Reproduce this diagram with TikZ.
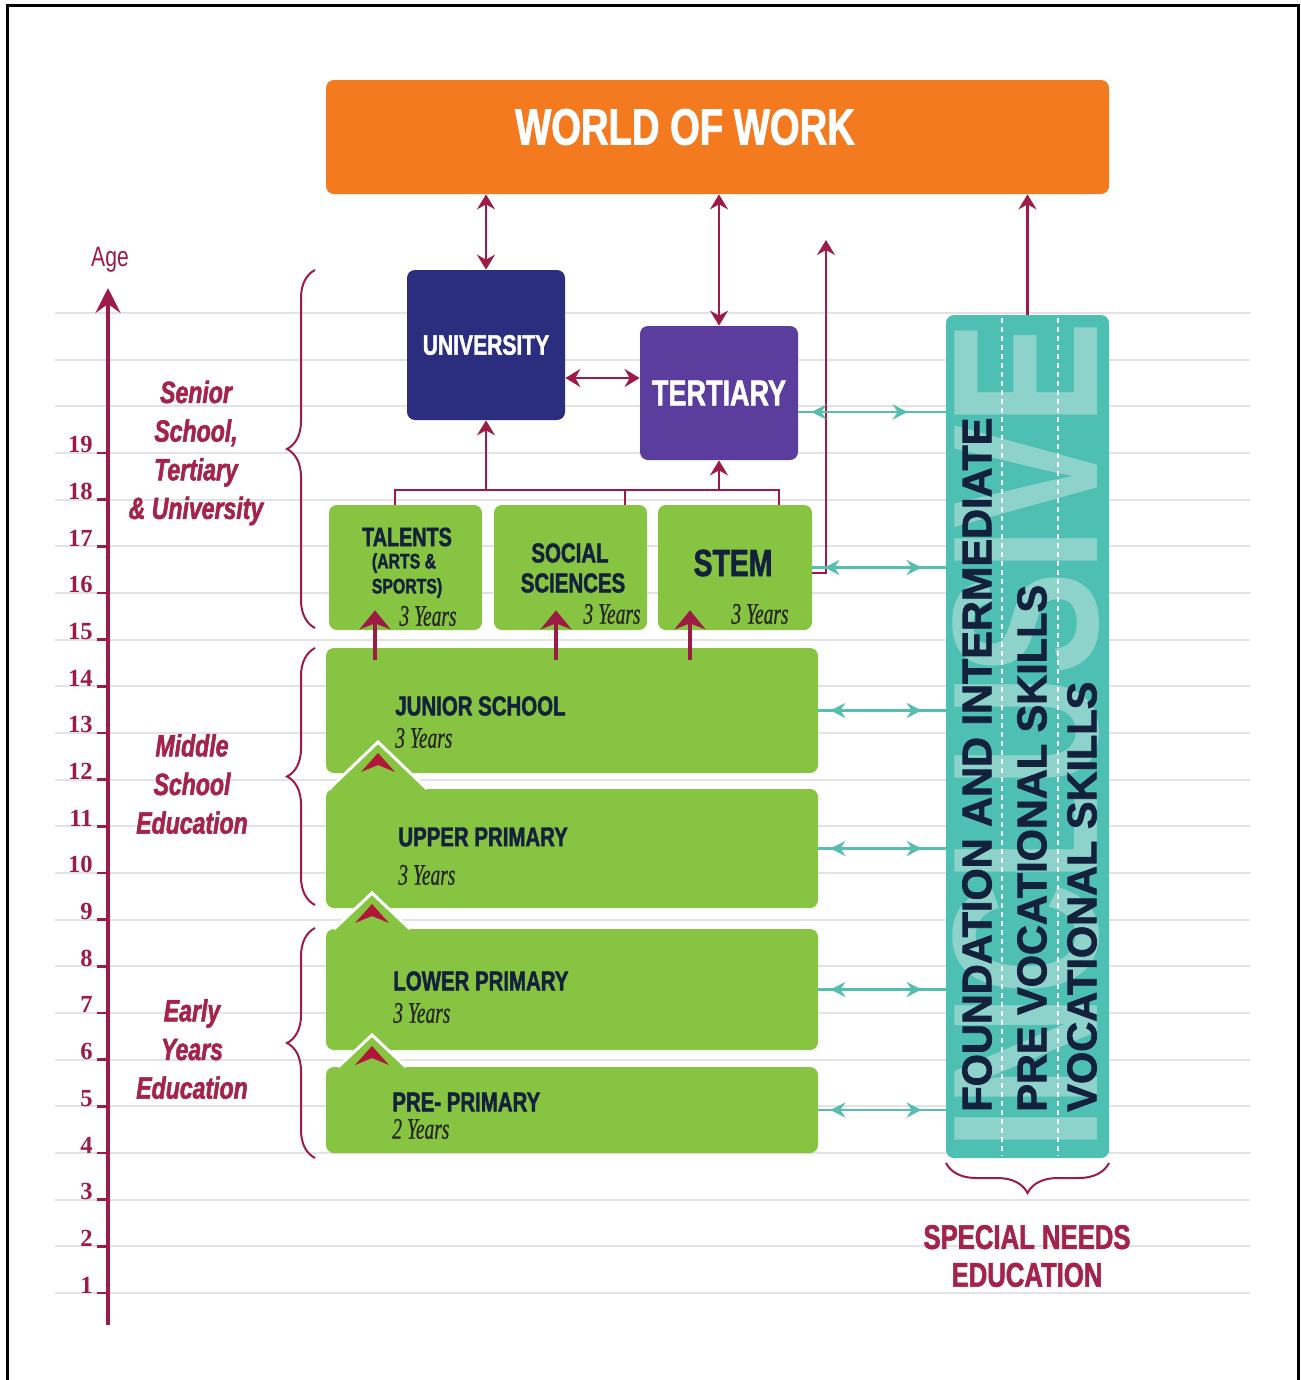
\documentclass[tikz,border=0pt]{standalone}
\usepackage{fontspec}
\setmainfont{Liberation Serif}
\setsansfont{Liberation Sans}
\newfontfamily\hfont{Liberation Sans}[FakeStretch=0.75]
\newfontfamily\kfont{Liberation Sans}[FakeStretch=0.75, FakeBold=1.6]
\newfontfamily\vfont{Liberation Sans}[FakeBold=1.8]
\newfontfamily\yfont{Liberation Serif}[FakeStretch=0.65, FakeBold=0.6]
\usepackage{tikz}
\usetikzlibrary{positioning,arrows.meta,calc,decorations.pathreplacing}

\definecolor{wowOrange}{HTML}{F47A20}
\definecolor{uniNavy}{HTML}{2B2E7E}
\definecolor{tertPurple}{HTML}{5B3D9D}
\definecolor{leafGreen}{HTML}{86C441}
\definecolor{inclTeal}{HTML}{4DBFB3}
\definecolor{inclMark}{HTML}{9FD8D2}
\definecolor{linkTeal}{HTML}{56BDB1}
\definecolor{wine}{HTML}{9C1C46}
\definecolor{wineText}{HTML}{A3234B}
\definecolor{inkNavy}{HTML}{13213C}
\definecolor{ruleGray}{HTML}{E3E3E3}

\newlength\upx
\setlength\upx{0.02cm}

\begin{document}
\begin{tikzpicture}[x=0.02cm, y=-0.02cm,
        >={Stealth[length=0.3cm,width=0.36cm,inset=0.1cm]},
        box/.style={rounded corners=0.16cm, inner sep=0pt},
        greenbox/.style={box, fill=leafGreen},
        boxtitle/.style={inner sep=0pt, text=inkNavy, font=\kfont\bfseries\fontsize{15.5}{15.5}\selectfont},
        years/.style={inner sep=0pt, text=black!85, font=\yfont\itshape\fontsize{17}{17}\selectfont},
        agenum/.style={anchor=base east, inner sep=0pt, text=wine, font=\bfseries\fontsize{14}{14}\selectfont},
        stage/.style={align=center, text=wineText, font=\kfont\bfseries\itshape\fontsize{17.5}{22}\selectfont},
        vtext/.style={rotate=90, anchor=west, inner sep=0pt, text=inkNavy, font=\vfont\bfseries\fontsize{23.6}{23.6}\selectfont},
        mlink/.style={wine, line width=2.5\upx},
        uplink/.style={wine, line width=3.5\upx, -{Stealth[length=0.38cm,width=0.62cm,inset=0.12cm]}},
        tlink/.style={linkTeal, line width=2.5\upx},
        thead/.style={tlink, arrows={Stealth[length=0.3cm,width=0.3cm,inset=0.1cm]-Stealth[length=0.3cm,width=0.3cm,inset=0.1cm]}},
        stagebrace/.style={wine, line width=2\upx, decorate, decoration={brace, amplitude=0.56cm}}]

    \fill[white] (0,0) rectangle (1301,1380);
    \useasboundingbox (0,0) rectangle (1301,1380);
    \draw[black, line width=3\upx] (7,5) rectangle (1298,1400);

    % age rules and ticks
    \foreach \k in {0,...,21}
        \draw[ruleGray, line width=2\upx] (55,{1293-\k*46.67}) -- (1250,{1293-\k*46.67});
    \foreach \a in {1,...,19} {
        \pgfmathsetmacro\ya{1293-(\a-1)*46.67}
        \draw[wine, line width=2.5\upx] (97,\ya) -- (107,\ya);
        \node[agenum] (age\a) at (93,\ya) {\a};
    }
    \coordinate (ax0) at (108,1325);
    \coordinate (ax1) at (108,288);
    \draw[wine, line width=3.5\upx, -{Stealth[length=0.5cm,width=0.5cm,inset=0.18cm]}] (ax0) -- (ax1);
    \node[text=wine, font=\hfont\fontsize{16}{16}\selectfont] (agelbl) at (110,260) {Age};

    % stages
    \draw[stagebrace] (315,628) -- (315,270);
    \draw[stagebrace] (315,905) -- (315,648);
    \draw[stagebrace] (315,1158) -- (315,928);
    \node[stage] (senior) at (196,453) {Senior\\School,\\Tertiary\\\& University};
    \node[stage] (middle) at (192,784) {Middle\\School\\Education};
    \node[stage] (early)  at (192,1049) {Early\\Years\\Education};

    % top boxes
    \node[box, fill=wowOrange, minimum width=783\upx, minimum height=114\upx] (work) at (717.5,137) {};
    \node[text=white, font=\kfont\bfseries\fontsize{29}{29}\selectfont] (worktxt) at (685,127) {WORLD OF WORK};
    \node[box, fill=uniNavy, minimum width=158\upx, minimum height=150\upx, text=white,
          font=\kfont\bfseries\fontsize{16}{16}\selectfont] (univ) at (486,345) {UNIVERSITY};
    \node[box, fill=tertPurple, minimum width=158\upx, minimum height=134\upx, text=white,
          font=\kfont\bfseries\fontsize{20.5}{20.5}\selectfont] (tert) at (719,393) {TERTIARY};

    % senior school streams
    \node[greenbox, minimum width=153\upx, minimum height=125\upx] (tal)  at (405.5,567.5) {};
    \node[greenbox, minimum width=153\upx, minimum height=125\upx] (soc)  at (570.5,567.5) {};
    \node[greenbox, minimum width=154\upx, minimum height=125\upx] (stem) at (735,567.5) {};
    \node[boxtitle, font=\kfont\bfseries\fontsize{15}{15}\selectfont] (talt) at (407,537) {TALENTS};
    \node[boxtitle, font=\kfont\bfseries\fontsize{12}{12}\selectfont] (talt2) at (404,563) {(ARTS \&};
    \node[boxtitle, font=\kfont\bfseries\fontsize{12}{12}\selectfont] (talt3) at (407,588) {SPORTS)};
    \node[years] (taly) at (428,616) {3 Years};
    \node[boxtitle] (soct) at (570,553) {SOCIAL};
    \node[boxtitle] (soct2) at (573,583) {SCIENCES};
    \node[years] (socy) at (612,614) {3 Years};
    \node[boxtitle, font=\kfont\bfseries\fontsize{21.5}{21.5}\selectfont] (stemt) at (733,563) {STEM};
    \node[years] (stemy) at (760,614) {3 Years};

    % basic education
    \node[greenbox, minimum width=492\upx, minimum height=125\upx] (junior) at (572,710.5) {};
    \node[greenbox, minimum width=492\upx, minimum height=119\upx] (upper)  at (572,848.5) {};
    \node[greenbox, minimum width=492\upx, minimum height=121\upx] (lower)  at (572,989.5) {};
    \node[greenbox, minimum width=492\upx, minimum height=86\upx]  (pre)    at (572,1110) {};

    \foreach \cx/\tp/\bs in {378/742/789, 372/893/929, 372/1035/1067} {
        \pgfmathsetmacro\hw{\bs-\tp+2}
        \fill[leafGreen] ({\cx-\hw},\bs) -- (\cx,\tp) -- ({\cx+\hw},\bs) -- cycle;
        \draw[white, line width=3\upx] ({\cx-\hw},\bs) -- (\cx,\tp) -- ({\cx+\hw},\bs);
        \fill[wine!80!red] ({\cx-17},{\tp+30}) -- (\cx,{\tp+11}) -- ({\cx+17},{\tp+30}) -- (\cx,{\tp+23}) -- cycle;
    }

    \node[boxtitle, anchor=west] (jt) at (395,706) {JUNIOR SCHOOL};
    \node[years, anchor=west] (jy) at (395,738) {3 Years};
    \node[boxtitle, anchor=west] (ut) at (398,837) {UPPER PRIMARY};
    \node[years, anchor=west] (uy) at (398,875) {3 Years};
    \node[boxtitle, anchor=west] (lt) at (393,981) {LOWER PRIMARY};
    \node[years, anchor=west] (ly) at (393,1013) {3 Years};
    \node[boxtitle, anchor=west] (pt) at (392,1102) {PRE- PRIMARY};
    \node[years, anchor=west] (py) at (392,1129) {2 Years};

    % inclusive column
    \node[box, fill=inclTeal, minimum width=163\upx, minimum height=843\upx] (incl) at (1027.5,736.5) {};
    \begin{scope}
        \clip[rounded corners=0.16cm] (incl.south west) rectangle (incl.north east);
        \node[rotate=90, inner sep=0pt, text=inclMark, opacity=0.8, font=\hfont\bfseries\fontsize{118}{118}\selectfont] (mark) at (1026,736) {INCLUSIVE};
    \end{scope}
    \draw[white, line width=2.5\upx, dash pattern=on 5\upx off 4\upx] (1002,318) -- (1002,1156);
    \draw[white, line width=2.5\upx, dash pattern=on 5\upx off 4\upx] (1058,318) -- (1058,1156);
    \node[vtext] (fnd) at (977,1112) {FOUNDATION AND INTERMEDIATE};
    \node[vtext] (prev) at (1032,1112) {PRE VOCATIONAL SKILLS};
    \node[vtext] (voc) at (1082,1112) {VOCATIONAL SKILLS};

    \draw[wine, line width=2\upx, decorate, decoration={brace, amplitude=0.6cm}] (1109,1163) -- (946,1163);
    \node[align=center, text=wineText, font=\kfont\bfseries\fontsize{19.5}{21.5}\selectfont] (sne) at (1027,1256) {SPECIAL NEEDS\\EDUCATION};

    % maroon links
    \draw[mlink, <->] (univ.north) -- (univ.north |- work.south);
    \draw[mlink, <->] (tert.north) -- (tert.north |- work.south);
    \draw[mlink, <->] (univ.east |- 0,378) -- (tert.west |- 0,378);
    \coordinate (brl) at (395,490);
    \coordinate (brm) at (625,490);
    \coordinate (brr) at (779,490);
    \draw[mlink] (brl |- tal.north) -- (brl) -- (brr) -- (brr |- stem.north);
    \draw[mlink] (brm) -- (brm |- soc.north);
    \draw[mlink, ->] (univ.south |- brl) -- (univ.south);
    \draw[mlink, ->] (tert.south |- brl) -- (tert.south);
    \coordinate (stemtop) at (826,240);
    \draw[mlink, line width=2\upx, ->] (stem.east |- 0,573) -| (stemtop);
    \draw[mlink, ->] (incl.north) -- (incl.north |- work.south);

    \foreach \x/\e in {375/tal, 556/soc, 690/stem}
        \draw[uplink] ($(junior.north -| \x,0)+(0,12)$) -- ($(\e.south -| \x,0)+(0,-20)$);

    % teal links
    \path (tert.east |- 0,412) edge[tlink] (incl.west |- 0,412)
                               edge[thead, shorten <=13\upx, shorten >=38\upx] (incl.west |- 0,412);
    \foreach \b in {stem, junior, upper, lower, pre}
        \path (\b.east) edge[tlink] (\b.east -| incl.west)
                        edge[thead, shorten <=12\upx, shorten >=24\upx] (\b.east -| incl.west);
\end{tikzpicture}
\end{document}
